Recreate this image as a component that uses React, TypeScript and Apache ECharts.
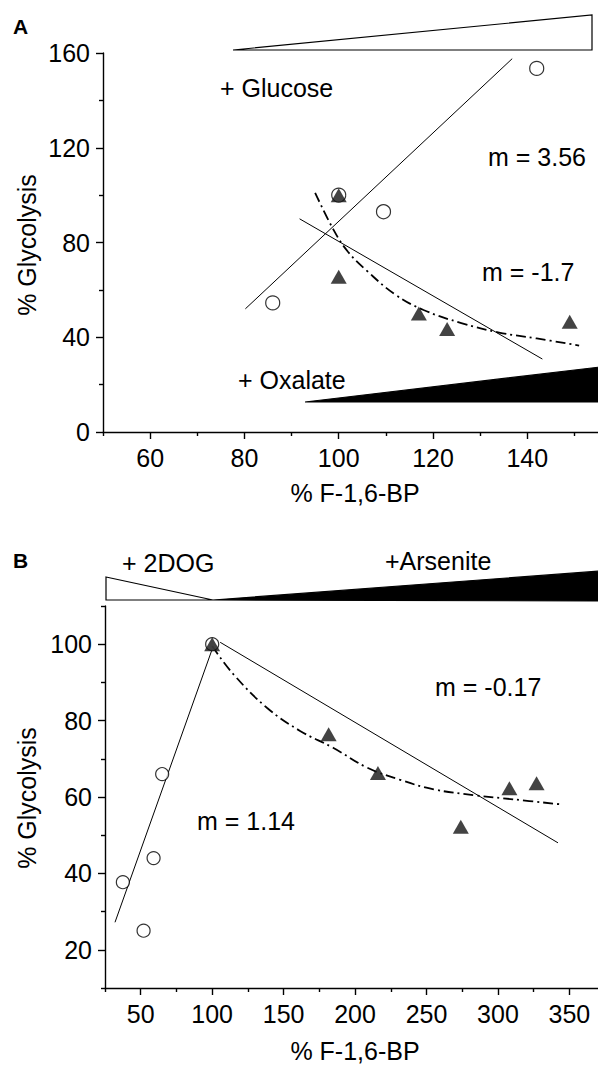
import React, { useEffect, useRef } from "react";
import * as echarts from "echarts";

// ---------- Panel A data ----------
const aXMajor = [60, 80, 100, 120, 140];
const aXMinor = [50, 70, 90, 110, 130, 150];
const aYMajor = [0, 40, 80, 120, 160];
const aYMinor = [20, 60, 100, 140];
const aCircles = [[86, 54.5], [100, 100], [109.5, 93], [142, 153.5]];
const aTriangles = [[100, 100], [100, 65.5], [117, 50], [123, 43.5], [149, 46.5]];
const aGlucoseFit = [[80.2, 52], [136.8, 157.6]];
const aOxalateFit = [[91.7, 90], [143.2, 30.8]];
const aCurve = [[95, 101], [99, 85], [102, 76], [106, 68], [112, 58], [118, 51.5], [126, 46], [134, 42], [142, 39.5], [151, 36.5]];

// ---------- Panel B data ----------
const bXMajor = [50, 100, 150, 200, 250, 300, 350];
const bXMinor = [25, 75, 125, 175, 225, 275, 325];
const bYMajor = [20, 40, 60, 80, 100];
const bYMinor = [10, 30, 50, 70, 90, 110];
const bCircles = [[37.5, 37.7], [52, 25], [59, 44], [65, 66], [100, 100]];
const bTriangles = [[100, 100], [181.5, 76.4], [216, 66.3], [274, 52.2], [308, 62.3], [327, 63.6]];
const bRiseFit = [[32, 27.2], [100, 98.7]];
const bFallFit = [[105.6, 100.5], [342, 48]];
const bCurve = [[100, 99.5], [114.7, 92.2], [138.5, 83.3], [161.5, 77.3], [184.6, 72.9], [208.4, 67.7], [231.5, 64.5], [255, 62], [285, 60.4], [310.5, 59.4], [345.5, 58]];

const FONT = "'Liberation Sans', Arial, Helvetica, sans-serif";
const FS = 25;

function majorAxis(dim: "x" | "y", gridIndex: number, min: number, max: number, vals: number[]) {
  return {
    type: "value",
    gridIndex,
    min,
    max,
    position: dim === "x" ? "bottom" : "left",
    axisLine: { show: true, onZero: false, lineStyle: { color: "#000", width: 1.4 } },
    axisTick: { show: true, customValues: vals, length: 7, lineStyle: { color: "#000", width: 1.4 } },
    axisLabel: { show: true, customValues: vals, fontSize: FS, fontFamily: FONT, color: "#000", margin: 13 },
    splitLine: { show: false },
  };
}
function minorAxis(dim: "x" | "y", gridIndex: number, min: number, max: number, vals: number[]) {
  return {
    type: "value",
    gridIndex,
    min,
    max,
    position: dim === "x" ? "bottom" : "left",
    axisLine: { show: false, onZero: false },
    axisTick: { show: true, customValues: vals, length: 4, lineStyle: { color: "#000", width: 1.4 } },
    axisLabel: { show: false },
    splitLine: { show: false },
  };
}

function lineSeries(data: number[][], idx: number, dashed: boolean) {
  return {
    type: "line",
    xAxisIndex: idx,
    yAxisIndex: idx,
    data,
    showSymbol: false,
    smooth: dashed ? 0.4 : false,
    lineStyle: { color: "#000", width: dashed ? 1.8 : 1, type: dashed ? [10, 4, 2, 4] : "solid" },
    z: 2,
    silent: true,
  };
}
function circleSeries(data: number[][], idx: number, size: number) {
  return {
    type: "scatter",
    xAxisIndex: idx,
    yAxisIndex: idx,
    data,
    symbol: "circle",
    symbolSize: size,
    itemStyle: { color: "#fff", borderColor: "#000", borderWidth: 1.2 },
    z: 3,
  };
}
function triangleSeries(data: number[][], idx: number) {
  return {
    type: "scatter",
    xAxisIndex: idx,
    yAxisIndex: idx,
    data,
    symbol: "triangle",
    symbolSize: [16, 14],
    itemStyle: { color: "#141414" },
    z: 4,
  };
}

function txt(text: string, x: number, y: number, opts: any = {}) {
  return {
    type: "text",
    x,
    y,
    rotation: opts.rotation || 0,
    z: 10,
    style: {
      text,
      fontSize: opts.fontSize || FS,
      fontFamily: FONT,
      fontWeight: opts.bold ? "bold" : "normal",
      fill: "#000",
      textAlign: opts.align || "left",
      textVerticalAlign: "middle",
      align: opts.align || "left",
      verticalAlign: "middle",
    },
  };
}
function poly(points: number[][], fill: string) {
  return {
    type: "polygon",
    z: 5,
    shape: { points },
    style: { fill, stroke: "#000", lineWidth: 1.2 },
  };
}

export default function App() {
  const ref = useRef<HTMLDivElement>(null);
  useEffect(() => {
    if (!ref.current) return;
    const chart = echarts.init(ref.current, undefined, { renderer: "svg" });
    const option: any = {
      animation: false,
      backgroundColor: "#fff",
      grid: [
        { left: 103, top: 53, width: 495, height: 379 },
        { left: 105, top: 606, width: 493, height: 382 },
      ],
      xAxis: [
        majorAxis("x", 0, 50, 155, aXMajor),
        minorAxis("x", 0, 50, 155, aXMinor),
        majorAxis("x", 1, 25, 370, bXMajor),
        minorAxis("x", 1, 25, 370, bXMinor),
      ],
      yAxis: [
        majorAxis("y", 0, 0, 160, aYMajor),
        minorAxis("y", 0, 0, 160, aYMinor),
        majorAxis("y", 1, 10, 110, bYMajor),
        minorAxis("y", 1, 10, 110, bYMinor),
      ],
      series: [
        lineSeries(aGlucoseFit, 0, false),
        lineSeries(aOxalateFit, 0, false),
        lineSeries(aCurve, 0, true),
        circleSeries(aCircles, 0, 14),
        triangleSeries(aTriangles, 0),
        lineSeries(bRiseFit, 2, false),
        lineSeries(bFallFit, 2, false),
        lineSeries(bCurve, 2, true),
        circleSeries(bCircles, 2, 13),
        triangleSeries(bTriangles, 2),
      ],
      graphic: [
        // panel A
        txt("A", 13, 26, { bold: true, fontSize: 21 }),
        poly([[233, 50], [592, 15], [592, 50]], "#fff"),
        poly([[305, 402], [600, 367], [600, 402]], "#000"),
        txt("+ Glucose", 220, 88),
        txt("m = 3.56", 488, 157),
        txt("m = -1.7", 482, 272),
        txt("+ Oxalate", 238, 380),
        txt("% Glycolysis", 27, 245, { rotation: Math.PI / 2, align: "center" }),
        txt("% F-1,6-BP", 355, 493, { align: "center" }),
        // panel B
        txt("B", 13, 560, { bold: true, fontSize: 21 }),
        poly([[106, 577], [213, 600], [106, 600]], "#fff"),
        poly([[213, 600], [600, 571], [600, 601]], "#000"),
        txt("+ 2DOG", 122, 563),
        txt("+Arsenite", 385, 561),
        txt("m = -0.17", 435, 687),
        txt("m = 1.14", 197, 821),
        txt("% Glycolysis", 27, 798, { rotation: Math.PI / 2, align: "center" }),
        txt("% F-1,6-BP", 355, 1051, { align: "center" }),
      ],
    };
    chart.setOption(option);
    return () => chart.dispose();
  }, []);
  return (
    <div
      ref={ref}
      style={{ position: "absolute", left: 0, top: 0, width: 598, height: 1068, background: "#fff" }}
    />
  );
}
